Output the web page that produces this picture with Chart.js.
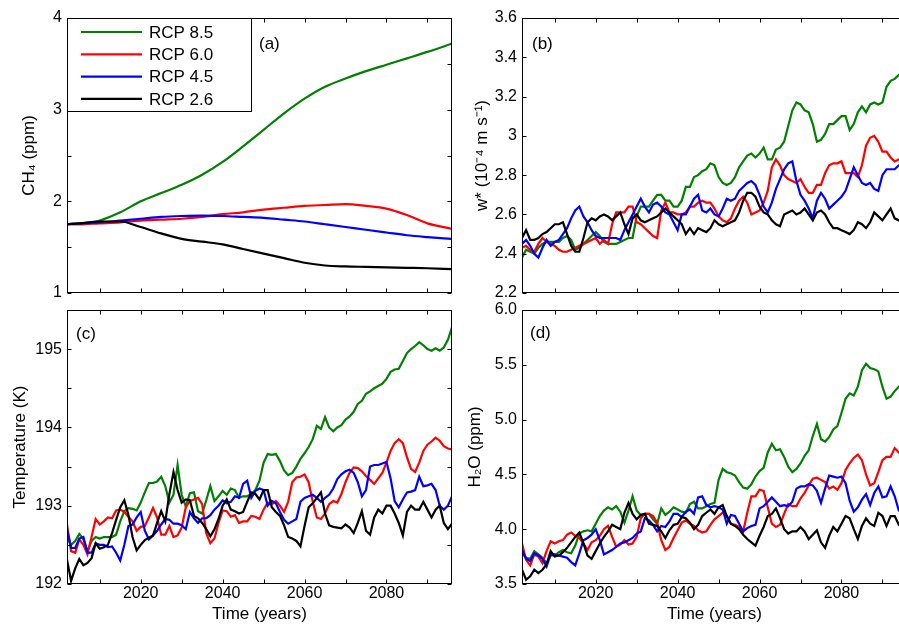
<!DOCTYPE html>
<html>
<head>
<meta charset="utf-8">
<title>CH4, w*, temperature and H2O – RCP scenarios</title>
<script src="https://cdn.jsdelivr.net/npm/chart.js@4.4.1/dist/chart.umd.min.js"></script>
<style>
  html, body { margin: 0; padding: 0; background: #fff; overflow: hidden; }
  #fig { position: relative; width: 899px; height: 627px; overflow: hidden; }
  canvas { position: absolute; }
  #pa { left: 0;     top: 0; }
  #pb { left: 460px; top: 0; }
  #pc { left: 0;     top: 300px; }
  #pd { left: 460px; top: 300px; }
</style>
</head>
<body>
<div id="fig">
  <canvas id="pa" width="460" height="300"></canvas>
  <canvas id="pb" width="460" height="300"></canvas>
  <canvas id="pc" width="460" height="327"></canvas>
  <canvas id="pd" width="460" height="327"></canvas>
</div>
<script>
// Data
const SCENARIOS = ['RCP 8.5', 'RCP 6.0', 'RCP 4.5', 'RCP 2.6'];
const COLORS    = ['#008000', '#ff0000', '#0000ff', '#000000'];
const X_LABELS  = [2020, 2040, 2060, 2080];

const YEARS = [
  2002, 2003, 2004, 2005, 2006, 2007, 2008, 2009, 2010, 2011,
  2012, 2013, 2014, 2015, 2016, 2017, 2018, 2019, 2020, 2021,
  2022, 2023, 2024, 2025, 2026, 2027, 2028, 2029, 2030, 2031,
  2032, 2033, 2034, 2035, 2036, 2037, 2038, 2039, 2040, 2041,
  2042, 2043, 2044, 2045, 2046, 2047, 2048, 2049, 2050, 2051,
  2052, 2053, 2054, 2055, 2056, 2057, 2058, 2059, 2060, 2061,
  2062, 2063, 2064, 2065, 2066, 2067, 2068, 2069, 2070, 2071,
  2072, 2073, 2074, 2075, 2076, 2077, 2078, 2079, 2080, 2081,
  2082, 2083, 2084, 2085, 2086, 2087, 2088, 2089, 2090, 2091,
  2092, 2093, 2094, 2095, 2096,
];

// (a) CH4, smooth scenario curves
const CH4_YEARS = [2002, 2005, 2010, 2015, 2020, 2025, 2030, 2035, 2040, 2045,
                   2050, 2055, 2060, 2065, 2070, 2075, 2080, 2085, 2090, 2096];
const CH4_RCP85 = [1.75, 1.75, 1.79, 1.88, 2.00, 2.09, 2.18, 2.29, 2.43, 2.60,
                   2.78, 2.96, 3.12, 3.25, 3.34, 3.42, 3.49, 3.56, 3.63, 3.72];
const CH4_RCP60 = [1.75, 1.75, 1.76, 1.77, 1.79, 1.80, 1.81, 1.83, 1.86, 1.88,
                   1.91, 1.93, 1.95, 1.96, 1.97, 1.95, 1.92, 1.85, 1.76, 1.70];
const CH4_RCP45 = [1.75, 1.76, 1.77, 1.79, 1.81, 1.83, 1.84, 1.845, 1.84, 1.83,
                   1.82, 1.80, 1.78, 1.75, 1.72, 1.69, 1.66, 1.63, 1.61, 1.59];
const CH4_RCP26 = [1.75, 1.76, 1.78, 1.78, 1.72, 1.65, 1.59, 1.56, 1.53, 1.48,
                   1.43, 1.38, 1.33, 1.30, 1.29, 1.285, 1.28, 1.275, 1.27, 1.26];

// (b) w* (1e-4 m/s)
const W_RCP85 = [
  2.38, 2.42, 2.41, 2.40, 2.43, 2.45, 2.46, 2.46, 2.46, 2.46,
  2.48, 2.49, 2.47, 2.42, 2.43, 2.45, 2.47, 2.49, 2.51, 2.49,
  2.46, 2.45, 2.45, 2.45, 2.46, 2.47, 2.48, 2.48, 2.59, 2.64,
  2.64, 2.64, 2.67, 2.70, 2.70, 2.67, 2.67, 2.64, 2.64, 2.67,
  2.74, 2.74, 2.79, 2.80, 2.82, 2.83, 2.86, 2.85, 2.79, 2.76,
  2.75, 2.76, 2.79, 2.84, 2.87, 2.90, 2.91, 2.89, 2.91, 2.94,
  2.88, 2.88, 2.93, 2.94, 2.97, 3.05, 3.13, 3.17, 3.16, 3.13,
  3.12, 3.06, 2.97, 2.98, 3.01, 3.06, 3.06, 3.08, 3.10, 3.10,
  3.03, 3.06, 3.12, 3.15, 3.12, 3.16, 3.17, 3.16, 3.17, 3.25,
  3.28, 3.29, 3.31, 3.32, 3.33,
];
const W_RCP60 = [
  2.43, 2.44, 2.42, 2.41, 2.45, 2.48, 2.46, 2.45, 2.44, 2.42,
  2.41, 2.41, 2.42, 2.43, 2.44, 2.45, 2.46, 2.47, 2.48, 2.45,
  2.47, 2.45, 2.55, 2.61, 2.61, 2.61, 2.64, 2.64, 2.56, 2.55,
  2.53, 2.51, 2.49, 2.48, 2.62, 2.66, 2.61, 2.61, 2.60, 2.60,
  2.61, 2.64, 2.64, 2.66, 2.67, 2.66, 2.66, 2.63, 2.59, 2.57,
  2.56, 2.58, 2.63, 2.67, 2.69, 2.66, 2.60, 2.61, 2.62, 2.66,
  2.72, 2.84, 2.88, 2.85, 2.80, 2.78, 2.77, 2.76, 2.78, 2.74,
  2.71, 2.71, 2.75, 2.75, 2.81, 2.85, 2.86, 2.86, 2.87, 2.81,
  2.81, 2.81, 2.79, 2.85, 2.95, 2.99, 3.00, 2.97, 2.92, 2.92,
  2.89, 2.87, 2.88, 2.89, 2.89,
];
const W_RCP45 = [
  2.45, 2.47, 2.44, 2.40, 2.38, 2.43, 2.47, 2.44, 2.46, 2.47,
  2.50, 2.53, 2.58, 2.62, 2.64, 2.59, 2.56, 2.52, 2.49, 2.48,
  2.48, 2.48, 2.48, 2.48, 2.47, 2.52, 2.56, 2.60, 2.64, 2.68,
  2.64, 2.61, 2.65, 2.66, 2.64, 2.61, 2.60, 2.56, 2.52, 2.60,
  2.60, 2.64, 2.68, 2.70, 2.62, 2.61, 2.63, 2.60, 2.59, 2.63,
  2.68, 2.67, 2.68, 2.72, 2.74, 2.76, 2.77, 2.75, 2.70, 2.64,
  2.61, 2.66, 2.73, 2.78, 2.83, 2.86, 2.87, 2.77, 2.70, 2.67,
  2.63, 2.58, 2.67, 2.71, 2.68, 2.63, 2.65, 2.67, 2.69, 2.72,
  2.78, 2.84, 2.80, 2.76, 2.75, 2.76, 2.73, 2.72, 2.80, 2.83,
  2.83, 2.83, 2.85, 2.85, 2.86,
];
const W_RCP26 = [
  2.48, 2.52, 2.47, 2.47, 2.48, 2.50, 2.51, 2.53, 2.55, 2.55,
  2.56, 2.50, 2.44, 2.41, 2.41, 2.48, 2.56, 2.58, 2.57, 2.59,
  2.60, 2.59, 2.57, 2.59, 2.61, 2.55, 2.50, 2.58, 2.60, 2.57,
  2.56, 2.57, 2.58, 2.59, 2.61, 2.63, 2.61, 2.59, 2.57, 2.55,
  2.50, 2.53, 2.50, 2.53, 2.52, 2.51, 2.53, 2.57, 2.55, 2.54,
  2.55, 2.56, 2.57, 2.61, 2.67, 2.71, 2.71, 2.69, 2.64, 2.61,
  2.60, 2.57, 2.55, 2.54, 2.60, 2.61, 2.62, 2.60, 2.61, 2.63,
  2.60, 2.57, 2.61, 2.62, 2.60, 2.56, 2.53, 2.53, 2.52, 2.51,
  2.50, 2.52, 2.56, 2.55, 2.53, 2.56, 2.61, 2.59, 2.57, 2.60,
  2.63, 2.58, 2.57, 2.59, 2.60,
];

// (c) temperature (K)
const T_RCP85 = [
  192.60, 192.50, 192.55, 192.64, 192.57, 192.42, 192.55, 192.60, 192.58, 192.60,
  192.60, 192.60, 192.63, 192.80, 192.93, 192.97, 192.96, 192.94, 193.04, 193.17,
  193.29, 193.29, 193.31, 193.37, 193.25, 193.04, 193.14, 193.52, 193.14, 192.99,
  193.16, 193.17, 192.93, 192.90, 193.07, 193.25, 193.06, 193.12, 193.19, 193.14,
  193.22, 193.20, 193.10, 193.12, 193.12, 193.15, 193.20, 193.32, 193.55, 193.66,
  193.65, 193.66, 193.57, 193.45, 193.39, 193.42, 193.50, 193.60, 193.67, 193.75,
  193.85, 194.02, 193.98, 194.13, 194.00, 193.95, 194.00, 194.03, 194.10, 194.14,
  194.20, 194.30, 194.34, 194.43, 194.46, 194.50, 194.53, 194.56, 194.62, 194.71,
  194.74, 194.75, 194.85, 194.95, 195.00, 195.04, 195.09, 195.05, 195.00, 194.98,
  195.01, 194.98, 195.02, 195.12, 195.28,
];
const T_RCP60 = [
  192.76, 192.42, 192.40, 192.57, 192.50, 192.38, 192.60, 192.83, 192.76, 192.80,
  192.85, 192.84, 192.94, 192.95, 192.92, 192.86, 192.80, 192.68, 192.73, 192.74,
  192.85, 192.97, 192.85, 192.63, 192.63, 192.74, 192.60, 192.62, 192.72, 192.98,
  193.06, 193.08, 193.10, 193.02, 192.65, 192.52, 192.58, 192.78, 192.94, 192.93,
  192.86, 192.88, 192.78, 192.80, 192.80, 192.87, 192.86, 192.83, 192.95, 193.04,
  193.02, 193.06, 193.00, 192.92, 193.05, 193.30, 193.36, 193.37, 193.40, 193.30,
  193.05, 192.85, 192.83, 192.90, 193.02, 193.06, 193.04, 193.15, 193.30, 193.42,
  193.49, 193.48, 193.44, 193.38, 193.33, 193.28, 193.35, 193.42, 193.55, 193.70,
  193.80, 193.85, 193.80, 193.62, 193.47, 193.43, 193.55, 193.70, 193.78, 193.82,
  193.87, 193.83, 193.76, 193.73, 193.72,
];
const T_RCP45 = [
  192.70, 192.46, 192.46, 192.58, 192.60, 192.40, 192.40, 192.52, 192.50, 192.50,
  192.47, 192.48, 192.40, 192.30, 192.50, 192.74, 192.76, 192.85, 192.92, 192.68,
  192.57, 192.62, 192.68, 192.76, 192.83, 192.82, 192.77, 192.77, 192.75, 192.70,
  192.92, 192.84, 192.78, 192.84, 192.84, 192.88, 192.95, 193.00, 193.07, 193.03,
  193.05, 193.12, 193.10, 193.28, 193.32, 193.10, 193.19, 193.22, 193.20, 193.00,
  193.06, 193.03, 192.92, 192.82, 192.77, 192.80, 192.83, 193.05, 193.10, 193.12,
  193.14, 193.10, 193.05, 193.10, 193.14, 193.22, 193.34, 193.40, 193.44, 193.46,
  193.42, 193.30, 193.12, 193.20, 193.50, 193.52, 193.52, 193.54, 193.56, 193.35,
  193.06, 192.98, 193.08, 193.17, 193.18, 193.20, 193.37, 193.25, 193.26, 193.28,
  193.20, 193.00, 192.95, 193.00, 193.12,
];
const T_RCP26 = [
  192.31, 192.04, 192.20, 192.32, 192.24, 192.27, 192.33, 192.52, 192.45, 192.47,
  192.50, 192.65, 192.82, 192.98, 193.07, 192.88, 192.60, 192.43, 192.50, 192.56,
  192.59, 192.62, 192.78, 192.93, 192.80, 193.15, 193.43, 193.20, 193.04, 193.08,
  193.07, 192.87, 192.84, 192.78, 192.70, 192.61, 192.70, 192.83, 193.00, 193.08,
  192.95, 192.93, 192.90, 192.92, 193.05, 193.17, 193.15, 193.08, 193.20, 193.20,
  192.98, 192.92, 192.87, 192.75, 192.60, 192.58, 192.55, 192.48, 192.74, 192.98,
  193.03, 193.10, 193.17, 192.90, 192.75, 192.73, 192.72, 192.71, 192.76, 192.72,
  192.65, 192.78, 192.93, 192.68, 192.63, 192.85, 192.95, 192.90, 193.00, 193.00,
  192.90, 192.78, 192.62, 192.92, 193.00, 192.95, 192.95, 193.05, 192.95, 192.85,
  192.95, 193.00, 192.78, 192.70, 192.77,
];

// (d) H2O (ppm)
const H2O_RCP85 = [
  3.78, 3.74, 3.73, 3.80, 3.77, 3.74, 3.69, 3.76, 3.76, 3.79,
  3.81, 3.79, 3.78, 3.85, 3.96, 3.98, 3.99, 3.98, 4.05, 4.12,
  4.17, 4.20, 4.18, 4.21, 4.16, 4.06, 4.17, 4.30, 4.17, 4.13,
  4.14, 4.14, 4.09, 4.05, 4.19, 4.13, 4.16, 4.20, 4.18, 4.16,
  4.15, 4.23, 4.25, 4.19, 4.19, 4.21, 4.23, 4.24, 4.45, 4.55,
  4.52, 4.51, 4.49, 4.43, 4.38, 4.37, 4.41, 4.48, 4.53, 4.56,
  4.70, 4.78, 4.72, 4.73, 4.66, 4.57, 4.52, 4.55, 4.60, 4.67,
  4.72, 4.85, 4.96, 4.82, 4.80, 4.84, 4.91, 4.94, 5.06, 5.19,
  5.24, 5.22, 5.30, 5.45, 5.51, 5.47, 5.46, 5.44, 5.30, 5.19,
  5.21, 5.26, 5.30, 5.31, 5.32,
];
const H2O_RCP60 = [
  3.87, 3.72, 3.67, 3.77, 3.75, 3.69, 3.80, 3.89, 3.87, 3.89,
  3.90, 3.95, 3.97, 3.94, 3.92, 3.87, 3.81, 3.88, 3.90, 3.94,
  4.00, 4.03, 3.93, 3.84, 3.86, 3.90, 3.86, 3.87, 3.93, 4.10,
  4.14, 4.14, 4.12, 4.06, 3.90, 3.81, 3.84, 3.92, 3.99, 4.06,
  4.08, 4.05, 4.03, 3.99, 3.97, 3.98, 4.04, 4.09, 4.12, 4.15,
  4.12, 4.05, 4.04, 4.02, 3.98, 4.15, 4.30, 4.30, 4.36, 4.35,
  4.20, 4.05, 4.02, 4.04, 4.14, 4.23, 4.21, 4.21, 4.28, 4.33,
  4.40, 4.46, 4.47, 4.45, 4.43, 4.37, 4.39, 4.36, 4.42, 4.54,
  4.60, 4.65, 4.68, 4.63, 4.50, 4.40, 4.42, 4.52, 4.63, 4.66,
  4.66, 4.74, 4.70, 4.67, 4.66,
];
const H2O_RCP45 = [
  3.81, 3.73, 3.71, 3.78, 3.76, 3.73, 3.66, 3.77, 3.77, 3.76,
  3.75, 3.74, 3.70, 3.67, 3.78, 3.90, 3.92, 3.95, 4.00, 3.90,
  3.77, 3.79, 3.81, 3.84, 3.87, 3.88, 3.90, 3.92, 3.96, 3.98,
  4.10, 4.08, 4.04, 3.98, 4.03, 4.02, 4.07, 4.14, 4.14, 4.11,
  4.16, 4.18, 4.14, 4.29, 4.30, 4.22, 4.20, 4.21, 4.20, 4.18,
  4.05, 4.13, 4.12, 4.05, 3.98, 4.01, 4.03, 4.04, 4.19, 4.21,
  4.25, 4.29, 4.25, 4.21, 4.22, 4.21, 4.25, 4.37, 4.39, 4.39,
  4.41, 4.40, 4.35, 4.24, 4.37, 4.49, 4.48, 4.47, 4.48, 4.42,
  4.26, 4.16, 4.20, 4.27, 4.32, 4.22, 4.33, 4.39, 4.29, 4.30,
  4.39, 4.30, 4.17, 4.15, 4.14,
];
const H2O_RCP26 = [
  3.63, 3.54, 3.57, 3.63, 3.60, 3.63, 3.68, 3.80, 3.75, 3.76,
  3.79, 3.83, 3.88, 3.93, 3.97, 3.87, 3.76, 3.73, 3.80, 3.87,
  3.93, 3.98, 4.04, 4.02, 4.00, 4.15, 4.24, 4.14, 4.09, 4.13,
  4.14, 4.05, 4.04, 4.03, 3.98, 3.92, 3.99, 4.04, 4.05, 4.11,
  4.10, 4.06, 4.00, 4.04, 4.12, 4.15, 4.18, 4.14, 4.20, 4.22,
  4.12, 4.05, 4.03, 4.00, 3.95, 3.91, 3.88, 3.85, 3.94, 4.02,
  4.12, 4.14, 4.19, 4.10, 4.00, 3.96, 3.98, 3.98, 4.02, 3.98,
  3.91, 3.95, 3.99, 3.88, 3.83, 3.94, 4.02, 3.98, 4.05, 4.12,
  4.10, 4.00, 3.91, 4.03, 4.10, 4.05, 4.03, 4.15, 4.12, 4.03,
  4.12, 4.12, 4.04, 4.01, 4.00,
];

// Setup
const FONT = '"Liberation Sans", Arial, Helvetica, sans-serif';
Chart.defaults.font.family = FONT;
Chart.defaults.color = '#000';

const PANELS = [
  { id: 'pa', years: CH4_YEARS, values: [CH4_RCP85, CH4_RCP60, CH4_RCP45, CH4_RCP26], smooth: true,
    yMin: 1, yMax: 4, yStep: 0.5, yFmt: v => Number.isInteger(v) ? String(v) : '',
    yTitle: 'CH₄ (ppm)', yTitlePad: 19, yWidth: 67, pad: { top: 18, right: 8 }, xHeight: 7,
    xLabels: false, tag: '(a)', tagX: 259, tagY: 44, legend: true },
  { id: 'pb', years: YEARS, values: [W_RCP85, W_RCP60, W_RCP45, W_RCP26],
    yMin: 2.2, yMax: 3.6, yStep: 0.2, yFmt: v => String(Math.round(v * 10) / 10),
    yTitle: 'w* (10⁻⁴ m s⁻¹)', yTitlePad: 12, yWidth: 62, pad: { top: 18, right: 13 }, xHeight: 7,
    xLabels: false, tag: '(b)', tagX: 72, tagY: 44 },
  { id: 'pc', years: YEARS, values: [T_RCP85, T_RCP60, T_RCP45, T_RCP26],
    yMin: 192, yMax: 195.5, yStep: 0.5, yFmt: v => Number.isInteger(v) ? String(v) : '',
    yTitle: 'Temperature (K)', yTitlePad: 10, yWidth: 67, pad: { top: 10, right: 8 }, xHeight: 43,
    xLabels: true, tag: '(c)', tagX: 76, tagY: 34 },
  { id: 'pd', years: YEARS, values: [H2O_RCP85, H2O_RCP60, H2O_RCP45, H2O_RCP26],
    yMin: 3.5, yMax: 6, yStep: 0.5, yFmt: v => v.toFixed(1),
    yTitle: 'H₂O (ppm)', yTitlePad: 5, yWidth: 62, pad: { top: 10, right: 13 }, xHeight: 43,
    xLabels: true, tag: '(d)', tagX: 70, tagY: 33 },
];

// box, inward ticks on all four sides, panel tag and legend
const framePlugin = {
  id: 'frame',
  afterDraw(chart, args, opts) {
    const { ctx, chartArea: a, scales } = chart;
    const L = Math.round(a.left) + 0.5, R = Math.round(a.right) - 0.5;
    const T = Math.round(a.top) + 0.5,  B = Math.round(a.bottom) - 0.5;
    const tl = 4;
    ctx.save();
    ctx.strokeStyle = '#000';
    ctx.lineWidth = 1;
    ctx.beginPath();
    scales.x.ticks.forEach(t => {
      const px = Math.round(scales.x.getPixelForValue(t.value)) + 0.5;
      ctx.moveTo(px, B); ctx.lineTo(px, B - tl);
      ctx.moveTo(px, T); ctx.lineTo(px, T + tl);
    });
    scales.y.ticks.forEach(t => {
      const py = Math.round(scales.y.getPixelForValue(t.value)) + 0.5;
      ctx.moveTo(L, py); ctx.lineTo(L + tl, py);
      ctx.moveTo(R, py); ctx.lineTo(R - tl, py);
    });
    ctx.stroke();
    ctx.strokeRect(L, T, R - L, B - T);

    ctx.fillStyle = '#000';
    ctx.font = '17px ' + FONT;
    ctx.textBaseline = 'middle';
    ctx.textAlign = 'left';
    ctx.fillText(opts.tag, opts.tagX, opts.tagY);

    if (opts.legend) {
      ctx.fillStyle = '#fff';
      ctx.fillRect(L, T, 184, 93);
      ctx.strokeRect(L, T, 184, 93);
      chart.data.datasets.forEach((ds, i) => {
        const y = 32 + i * 22.3;
        ctx.strokeStyle = ds.borderColor;
        ctx.lineWidth = 2.2;
        ctx.beginPath();
        ctx.moveTo(81, y); ctx.lineTo(142, y);
        ctx.stroke();
        ctx.fillStyle = '#000';
        ctx.fillText(ds.label, 149, y + 1);
      });
    }
    ctx.restore();
  },
};

function makePanel(p) {
  const ctx = document.getElementById(p.id).getContext('2d');
  const datasets = SCENARIOS.map((name, i) => ({
    label: name,
    data: p.values[i].map((v, j) => ({ x: p.years[j], y: v })),
    borderColor: COLORS[i],
    borderWidth: 2.2,
    pointRadius: 0,
    fill: false,
    tension: 0,
    cubicInterpolationMode: p.smooth ? 'monotone' : 'default',
    order: 3 - i,
  }));

  return new Chart(ctx, {
    type: 'line',
    data: { datasets },
    options: {
      responsive: false,
      animation: false,
      devicePixelRatio: 1,
      layout: { padding: { left: 0, bottom: 0, top: p.pad.top, right: p.pad.right } },
      plugins: {
        legend: { display: false },
        tooltip: { enabled: false },
        frame: { tag: p.tag, tagX: p.tagX, tagY: p.tagY, legend: !!p.legend },
      },
      scales: {
        x: {
          type: 'linear', min: 2002, max: 2096,
          grid: { display: false, drawTicks: false },
          border: { display: false },
          ticks: {
            display: p.xLabels, stepSize: 10, includeBounds: false, autoSkip: false,
            maxRotation: 0, padding: 0, color: '#000', font: { size: 16 },
            callback: v => X_LABELS.includes(v) ? String(v) : '',
          },
          title: { display: p.xLabels, text: 'Time (years)', color: '#000',
                   font: { size: 17 }, padding: { top: 0, bottom: 2 } },
          afterFit: s => { s.height = p.xHeight; s.paddingLeft = 0; s.paddingRight = 0; },
        },
        y: {
          min: p.yMin, max: p.yMax,
          grid: { display: false, drawTicks: false },
          border: { display: false },
          ticks: { stepSize: p.yStep, autoSkip: false, padding: 5, color: '#000',
                   font: { size: 16 }, callback: p.yFmt },
          title: { display: true, text: p.yTitle, color: '#000', font: { size: 17 },
                   padding: { top: p.yTitlePad, bottom: 0 } },
          afterFit: s => { s.width = p.yWidth; s.paddingTop = 0; s.paddingBottom = 0; },
        },
      },
    },
    plugins: [framePlugin],
  });
}

PANELS.forEach(makePanel);
</script>
</body>
</html>
